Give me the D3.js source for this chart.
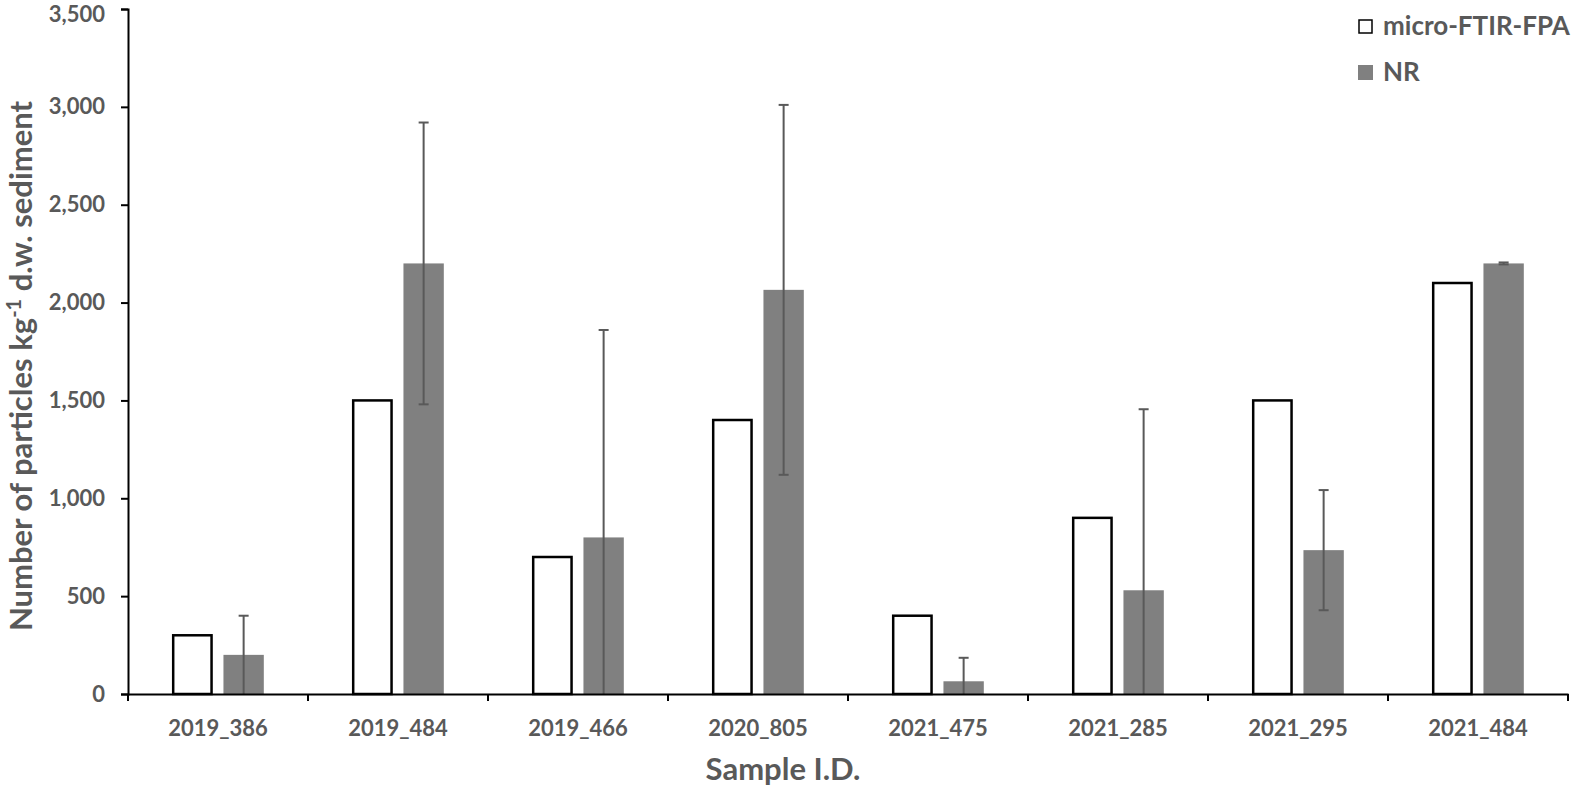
<!DOCTYPE html>
<html>
<head>
<meta charset="utf-8">
<script src="https://cdn.jsdelivr.net/npm/d3@7"></script>
<style>
  body { margin: 0; background: #fff; }
  svg text { font-family: Lato, "Open Sans", sans-serif; font-weight: bold; fill: #595959; }
</style>
</head>
<body>
<div id="chart"></div>
<script>
// values
const samples = ["2019_386", "2019_484", "2019_466", "2020_805", "2021_475", "2021_285", "2021_295", "2021_484"];
const seriesNames = ["micro-FTIR-FPA", "NR"];
const ftirValues = [300, 1500, 700, 1400, 400, 900, 1500, 2100];
const nrValues = [200, 2200, 800, 2065, 65, 530, 735, 2200];
const nrErrors = [200, 720, 1060, 945, 120, 925, 307, 5];
const yTicks = [0, 500, 1000, 1500, 2000, 2500, 3000, 3500];

const width = 1574;
const height = 788;
const margin = { top: 9, right: 6, bottom: 94, left: 128 };

const rows = samples.map((s, i) => ({ sample: s, ftir: ftirValues[i], nr: nrValues[i], err: nrErrors[i] }));

const svg = d3.select("#chart").append("svg")
    .attr("width", width)
    .attr("height", height);

const x0 = d3.scaleBand()
    .domain(samples)
    .range([margin.left, width - margin.right]);

// excel style: gap width 219%, overlap -27%
const barW = x0.bandwidth() / (2 + 0.27 + 2.19);
const gapOut = 2.19 * barW / 2;
const x1 = d3.scaleBand()
    .domain(seriesNames)
    .range([gapOut, gapOut + 2.27 * barW])
    .paddingInner(0.27 / 1.27);

const y = d3.scaleLinear()
    .domain([0, 3500])
    .range([height - margin.bottom, margin.top]);

const groups = svg.selectAll("g.grp").data(rows).join("g")
    .attr("class", "grp")
    .attr("transform", d => `translate(${x0(d.sample)},0)`);

groups.append("rect")
    .attr("x", x1("micro-FTIR-FPA") + 1)
    .attr("y", d => y(d.ftir))
    .attr("width", x1.bandwidth() - 2)
    .attr("height", d => y(0) - y(d.ftir))
    .attr("fill", "#fff")
    .attr("stroke", "#000")
    .attr("stroke-width", 2.5);

groups.append("rect")
    .attr("x", x1("NR"))
    .attr("y", d => y(d.nr))
    .attr("width", x1.bandwidth())
    .attr("height", d => y(0) - y(d.nr))
    .attr("fill", "#808080");

// error bars (clipped at the axis like excel does)
const errX = x1("NR") + x1.bandwidth() / 2;
const capW = 5;
groups.append("line")
    .attr("x1", errX).attr("x2", errX)
    .attr("y1", d => y(d.nr + d.err))
    .attr("y2", d => y(Math.max(0, d.nr - d.err)))
    .attr("stroke", "#595959")
    .attr("stroke-width", 2);
groups.append("line")
    .attr("x1", errX - capW).attr("x2", errX + capW)
    .attr("y1", d => y(d.nr + d.err))
    .attr("y2", d => y(d.nr + d.err))
    .attr("stroke", "#595959")
    .attr("stroke-width", 2);
groups.filter(d => d.nr - d.err > 0).append("line")
    .attr("x1", errX - capW).attr("x2", errX + capW)
    .attr("y1", d => y(d.nr - d.err))
    .attr("y2", d => y(d.nr - d.err))
    .attr("stroke", "#595959")
    .attr("stroke-width", 2);

// axes
const yAxis = svg.append("g")
    .attr("transform", `translate(${margin.left},0)`)
    .call(d3.axisLeft(y).tickValues(yTicks).tickSize(7).tickPadding(16).tickFormat(d3.format(",")));
const xAxis = svg.append("g")
    .attr("transform", `translate(0,${y(0)})`)
    .call(d3.axisBottom(x0).tickSize(0).tickPadding(26));

[yAxis, xAxis].forEach(a => {
    a.select(".domain").attr("stroke", "#000").attr("stroke-width", 2);
    a.selectAll(".tick line").attr("stroke", "#000").attr("stroke-width", 2);
    a.selectAll("text").style("font-size", "22px").attr("fill", "#595959");
});
// top label sits at the page edge; nudge it so it stays readable
yAxis.selectAll(".tick text").filter(d => d === 3500).attr("dy", "0.55em");

// x category boundary ticks
svg.append("g").selectAll("line")
    .data(samples.concat(["end"]))
    .join("line")
    .attr("x1", d => d === "end" ? x0.range()[1] : x0(d))
    .attr("x2", d => d === "end" ? x0.range()[1] : x0(d))
    .attr("y1", y(0))
    .attr("y2", y(0) + 7)
    .attr("stroke", "#000")
    .attr("stroke-width", 2);

// axis titles
svg.append("text")
    .attr("x", 783)
    .attr("y", 780)
    .attr("text-anchor", "middle")
    .style("font-size", "31px")
    .text("Sample I.D.");

const yTitle = svg.append("text")
    .attr("transform", `translate(32,${366}) rotate(-90)`)
    .attr("text-anchor", "middle")
    .style("font-size", "31px");
yTitle.append("tspan").text("Number of particles kg");
yTitle.append("tspan").attr("dy", -11).style("font-size", "20px").text("-1");
yTitle.append("tspan").attr("dy", 11).text(" d.w. sediment");

// legend
const legend = svg.append("g").attr("transform", "translate(1358,19)");
const legItems = legend.selectAll("g").data(seriesNames).join("g")
    .attr("transform", (d, i) => `translate(0,${i * 46})`);
legItems.append("rect")
    .attr("x", d => d === "NR" ? 0 : 1)
    .attr("y", d => d === "NR" ? 0 : 1)
    .attr("width", d => d === "NR" ? 15 : 13)
    .attr("height", d => d === "NR" ? 15 : 13)
    .attr("fill", d => d === "NR" ? "#808080" : "#fff")
    .attr("stroke", d => d === "NR" ? "none" : "#000")
    .attr("stroke-width", 1.5);
legItems.append("text")
    .attr("x", 25)
    .attr("y", 16)
    .style("font-size", "26px")
    .text(d => d);
</script>
</body>
</html>
